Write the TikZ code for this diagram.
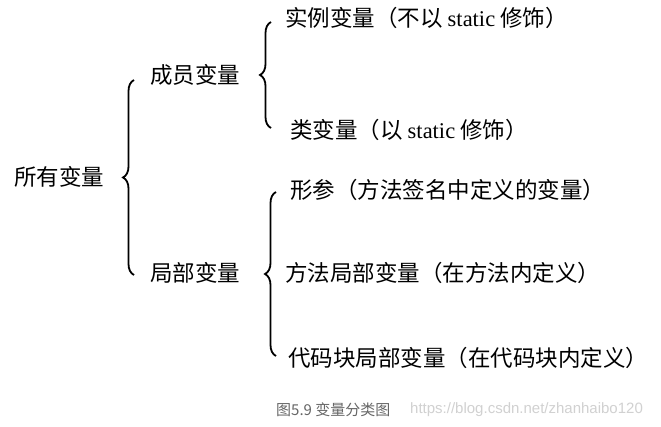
\documentclass[tikz,border=0pt]{standalone}
\usepackage{fontspec}
\setmainfont{Liberation Serif}
\setsansfont{Liberation Sans}
\newfontfamily\cjk{Noto Sans CJK SC}
\usetikzlibrary{decorations.pathreplacing}
\begin{document}
\begin{tikzpicture}[x=1pt,y=1pt,
  lbl/.style={anchor=west,inner sep=0pt,font=\fontsize{22.5}{26}\selectfont\cjk},
  brc/.style={draw,line width=1.8pt,decorate,decoration={brace,amplitude=11pt}}]
\useasboundingbox[fill=white] (0,0) rectangle (661,-427);
\node[lbl] (all) at (14,-177) {所有变量};
\node[lbl] (mem) at (150,-75) {成员变量};
\node[lbl] (loc) at (150,-273) {局部变量};
\node[lbl] (inst) at (285,-18) {实例变量（不以 {\rmfamily static} 修饰）};
\node[lbl] (cls) at (290,-130) {类变量（以 {\rmfamily static} 修饰）};
\node[lbl] (par) at (290,-190) {形参（方法签名中定义的变量）};
\node[lbl] (mloc) at (285,-273) {方法局部变量（在方法内定义）};
\node[lbl] (bloc) at (288,-358) {代码块局部变量（在代码块内定义）};
\node[anchor=west,inner sep=0pt,text=black!60,font=\fontsize{15}{17}\selectfont\cjk] (cap) at (276,-410) {图5.9 变量分类图};
\node[anchor=west,inner sep=0pt,text=black!18,font=\fontsize{15}{17}\selectfont\sffamily] (wm) at (410,-410) {https://blog.csdn.net/zhanhaibo120};
\draw[brc] (134,-275) -- (134,-80);
\draw[brc] (271,-128) -- (271,-22);
\draw[brc] (276,-356) -- (276,-192);
\end{tikzpicture}
\end{document}
